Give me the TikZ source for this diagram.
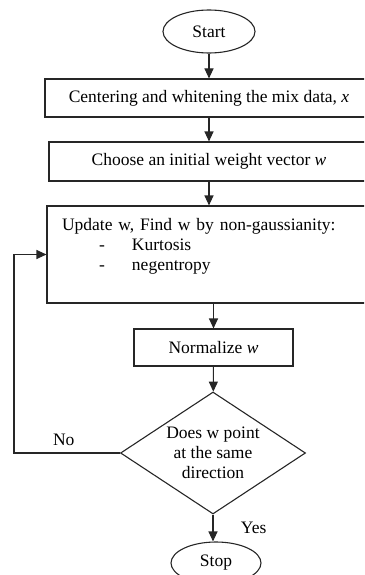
\documentclass[tikz,border=0pt]{standalone}
\usepackage{fontspec}
\setmainfont{Liberation Serif}
\usetikzlibrary{positioning,shapes.geometric,arrows.meta}

\tikzstyle{block} = [draw,minimum height=38pt,inner sep=0pt,align=center]
\tikzstyle{term}  = [draw,ellipse,inner sep=0pt]
\tikzstyle{line}  = [draw=black!85,line width=1.1pt]
\tikzstyle{arr}   = [line,-{Triangle[length=10pt,width=9pt]}]

\begin{document}
\begin{tikzpicture}[x=1pt,y=-1pt,every node/.style={font=\fontsize{17.5}{20}\selectfont}]
  \clip (0,0) rectangle (364,575);

  \node[term,line,minimum width=92pt,minimum height=43pt] at (209,31.5) (start) {Start};
  \node[block,line,minimum width=328pt] at (209,98) (cen)
    {Centering and whitening the mix data, \textit{x}};
  \node[block,line,minimum width=320pt,minimum height=39pt] at (209,161.5) (cho)
    {Choose an initial weight vector \textit{w}};
  \node[block,line,align=left,text width=298pt,inner xsep=15pt,minimum height=97pt]
    at (211,254.5) (upd)
    {Update w, Find w by non-gaussianity:\\
     \hspace*{37pt}\makebox[33pt][l]{-}Kurtosis\\
     \hspace*{37pt}\makebox[33pt][l]{-}negentropy\\
     \mbox{}};
  \node[block,line,minimum width=159pt,minimum height=37pt] at (213.5,347.5) (norm)
    {Normalize \textit{w}};
  \node[diamond,line,aspect=1.5,inner sep=0pt,minimum width=185pt,minimum height=122pt,align=center]
    at (213,453) (dec) {Does w point\\ at the same\\ direction};
  \node[term,line,minimum width=90pt,minimum height=42pt] at (216,563) (stop) {Stop};
  \coordinate (back) at (14,453);

  \draw[arr] (start) -- (cen);
  \draw[arr] (cen) -- (cho);
  \draw[arr] (cho) -- (cho |- upd.north);
  \draw[arr] (upd.south -| norm.north) -- (norm);
  \draw[arr] (norm) -- (dec);
  \draw[arr] (dec.south) -- node[right=24pt] {Yes} (dec.south |- stop.north);
  \draw[arr] (dec.west) -- node[above=3pt,pos=0.53] {No} (back) |- (upd.west);
\end{tikzpicture}
\end{document}
